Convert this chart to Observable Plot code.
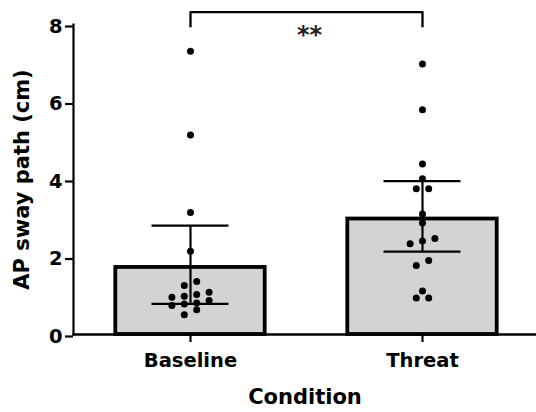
<!DOCTYPE html>
<html>
<head>
<meta charset="utf-8">
<script src="https://cdn.jsdelivr.net/npm/d3@7"></script>
<script src="https://cdn.jsdelivr.net/npm/@observablehq/plot@0.6"></script>
<style>
  html, body { margin: 0; padding: 0; background: white; }
  #chart svg { display: block; }
</style>
</head>
<body>
<div id="chart"></div>
<script>
// ---- data ----
const categories = ["Baseline", "Threat"];
const means = [1.73, 2.98];
const ciLow = [0.79, 2.14];
const ciHigh = [2.81, 3.96];
const baselineValues = [7.31, 5.15, 3.15, 2.15, 1.37, 1.265, 1.09, 1.03, 0.99, 0.96, 0.88, 0.81, 0.79, 0.75, 0.64, 0.51];
const threatValues = [6.98, 5.80, 4.40, 4.02, 3.76, 3.76, 3.11, 2.88, 2.48, 2.41, 2.34, 1.91, 1.78, 1.12, 0.94, 0.94];
const yTicks = [0, 2, 4, 6, 8];
const significance = [{from: 0, to: 1, level: 8.32, drop: 0.39, label: "**"}];

// ---- layout ----
const W = 536, H = 412;
const mL = 73, mR = 0, mT = 24, mB = 78;
const xDomain = [-0.5043, 1.4914];
const yDomain = [0, 8];
const pxPerX = (W - mL - mR) / (xDomain[1] - xDomain[0]);
const pxPerY = (H - mT - mB) / (yDomain[1] - yDomain[0]);
const barHalf = 74.7 / pxPerX;
const capHalf = 38.5 / pxPerX;
const slot = 12.4 / pxPerX;   // horizontal spacing of scattered points
const rowPx = 6.4;            // points closer than this vertically share a row

const bars = categories.map((c, i) => ({i, cat: c, mean: means[i], lo: ciLow[i], hi: ciHigh[i]}));

// column-scatter layout: group nearby values in rows, center each row
function scatter(values, i) {
  const sorted = values.slice().sort((a, b) => a - b);
  const out = [];
  let row = [];
  const flush = () => {
    row.forEach((v, j) => out.push({i, value: v, x: i + (j - (row.length - 1) / 2) * slot}));
    row = [];
  };
  for (const v of sorted) {
    if (row.length && (v - row[0]) * pxPerY >= rowPx) flush();
    row.push(v);
  }
  flush();
  return out;
}
const points = [...scatter(baselineValues, 0), ...scatter(threatValues, 1)];

const bracketPts = significance.flatMap(s => [
  {x: s.from, y: s.level - s.drop},
  {x: s.from, y: s.level},
  {x: s.to, y: s.level},
  {x: s.to, y: s.level - s.drop}
]);

const font = "DejaVu Sans";

const plot = Plot.plot({
  width: W,
  height: H,
  marginLeft: mL,
  marginRight: mR,
  marginTop: mT,
  marginBottom: mB,
  style: {fontFamily: font, background: "white", color: "black", overflow: "visible"},
  x: {type: "linear", domain: xDomain, axis: null},
  y: {domain: yDomain, axis: null},
  marks: [
    Plot.rectY(bars, {
      x1: d => d.i - barHalf, x2: d => d.i + barHalf, y1: 0, y2: "mean",
      fill: "#d3d3d3", stroke: "black", strokeWidth: 3.8
    }),
    Plot.frame({anchor: "bottom", stroke: "black", strokeWidth: 2.3}),
    Plot.frame({anchor: "left", stroke: "black", strokeWidth: 2.2}),
    Plot.ruleX(bars, {x: "i", y1: "lo", y2: "hi", stroke: "black", strokeWidth: 2.2}),
    Plot.ruleY(bars, {y: "hi", x1: d => d.i - capHalf, x2: d => d.i + capHalf, stroke: "black", strokeWidth: 2.2}),
    Plot.ruleY(bars, {y: "lo", x1: d => d.i - capHalf, x2: d => d.i + capHalf, stroke: "black", strokeWidth: 2.2}),
    Plot.dot(points, {x: "x", y: "value", r: 3.5, fill: "black", stroke: "none"}),
    Plot.line(bracketPts, {x: "x", y: "y", stroke: "black", strokeWidth: 2.3, strokeLinejoin: "round", strokeLinecap: "butt"}),
    Plot.text(significance, {
      x: d => (d.from + d.to) / 2, y: "level", text: "label", dy: 31, dx: 3,
      lineAnchor: "bottom", fontFamily: font, fontSize: 24, fontWeight: "bold", fill: "#222"
    }),
    Plot.axisY({
      ticks: yTicks, tickSize: 8, tickPadding: 3, tickFormat: d => d, label: null,
      strokeWidth: 2.2, fontFamily: font, fontSize: 19.5, fontWeight: "bold", fill: "black", dy: 2
    }),
    Plot.axisX({
      ticks: [0, 1], tickFormat: i => categories[i], tickSize: 8, tickPadding: 11, label: null,
      strokeWidth: 2.2, fontFamily: font, fontSize: 19.5, fontWeight: "bold", fill: "black"
    }),
    Plot.text(["AP sway path (cm)"], {
      text: d => d, frameAnchor: "left", rotate: -90, dx: -59.5, lineAnchor: "top", textAnchor: "middle",
      fontFamily: font, fontSize: 21, fontWeight: "bold", fill: "black"
    }),
    Plot.text(["Condition"], {
      text: d => d, frameAnchor: "bottom", dy: 69.3, lineAnchor: "bottom", textAnchor: "middle",
      fontFamily: font, fontSize: 21, fontWeight: "bold", fill: "black"
    })
  ]
});
document.getElementById("chart").append(plot);
</script>
</body>
</html>
